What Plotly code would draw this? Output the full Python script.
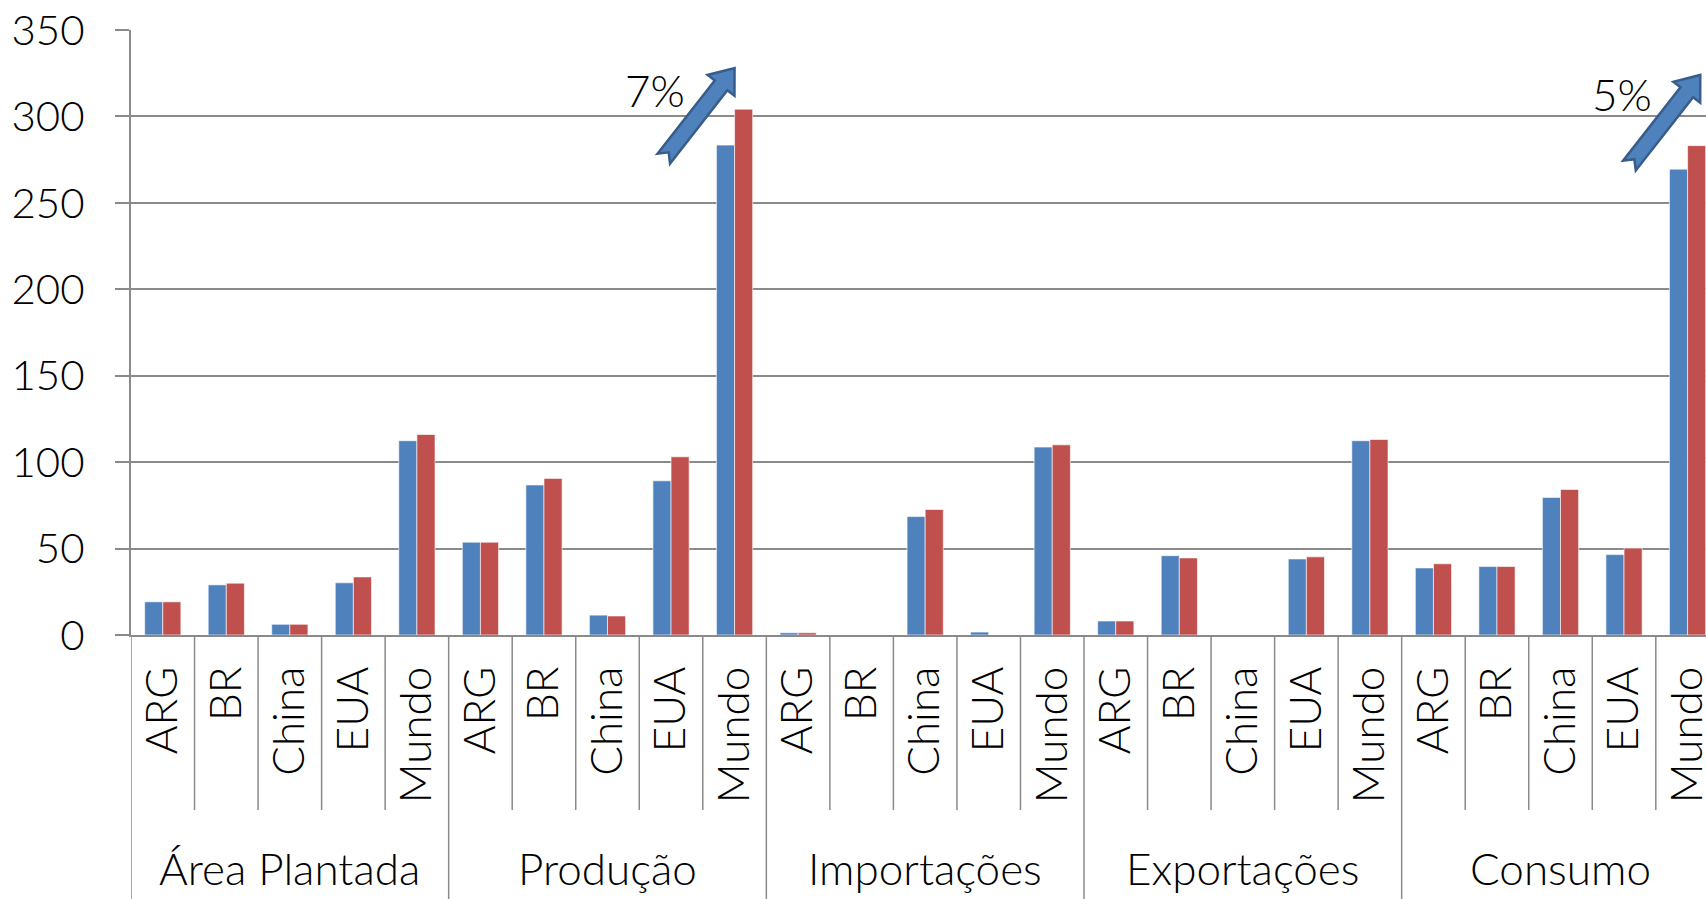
import math
import plotly.graph_objects as go

groups = ["Área Plantada", "Produção", "Importações", "Exportações", "Consumo"]
countries = ["ARG", "BR", "China", "EUA", "Mundo"]

serie1 = [19.2, 29.0, 6.2, 30.2, 112.4,
          53.7, 86.8, 11.5, 89.2, 283.4,
          1.3, 0, 68.5, 1.7, 108.7,
          8.1, 45.9, 0, 44.0, 112.4,
          38.8, 39.6, 79.6, 46.5, 269.5]
serie2 = [19.2, 30.0, 6.2, 33.6, 116.0,
          53.7, 90.6, 11.0, 103.1, 304.2,
          1.3, 0, 72.6, 0, 110.0,
          8.1, 44.6, 0, 45.2, 113.1,
          41.2, 39.6, 84.2, 50.3, 283.1]

y_ticks = [0, 50, 100, 150, 200, 250, 300, 350]
growth_labels = ["7%", "5%"]

W, H = 1706, 899
ML, MT, MB = 131, 30, 264
FONT = "Lato"
FW = 300
GRAY = "#8a8a8a"

n = len(groups) * len(countries)
xs = list(range(n))
tick_text = countries * len(groups)

fig = go.Figure()
fig.add_trace(go.Bar(x=xs, y=serie1, name="Série 1", marker=dict(color="#4F81BD", line=dict(color="rgba(255,255,255,0.6)", width=1))))
fig.add_trace(go.Bar(x=xs, y=serie2, name="Série 2", marker=dict(color="#C0504D", line=dict(color="rgba(255,255,255,0.6)", width=1))))

plot_h = H - MT - MB
def ypaper(px):
    return (H - MB - px) / plot_h

shapes = []
ng = len(countries)
for b in range(-1, n - 1):
    xb = b + 0.5
    is_group = (b + 1) % ng == 0
    shapes.append(dict(type="line", xref="x", yref="paper", x0=xb, x1=xb,
                       y0=0, y1=ypaper(H) if is_group else ypaper(810),
                       line=dict(color=GRAY, width=1.5), layer="above"))

# block arrows (decoration), pixel geometry relative to tip anchor
def arrow_path(theta_deg=52, L=115, hw=8, hhw=17, hl=22, notch=8):
    t = math.radians(theta_deg)
    pts = [(-L, hw), (-hl, hw), (-hl, hhw), (0, 0), (-hl, -hhw), (-hl, -hw), (-L, -hw), (-L + notch, 0)]
    out = []
    for u, v in pts:
        X = u * math.cos(t) - v * math.sin(t)
        Y = u * math.sin(t) + v * math.cos(t)
        out.append((X, Y))
    return "M " + " L ".join(f"{x:.1f},{y:.1f}" for x, y in out) + " Z"

arrow_tips = [(9.0, 328), (24.2, 324)]
for ax_, ay_ in arrow_tips:
    shapes.append(dict(type="path", xref="x", yref="y", xsizemode="pixel", ysizemode="pixel",
                       xanchor=ax_, yanchor=ay_, path=arrow_path(),
                       fillcolor="#4F81BD", line=dict(color="#385D8A", width=2.5), layer="above"))

tfont = dict(family=FONT, size=44, color="black", weight=FW)
yfont = dict(family=FONT, size=42, color="black", weight=FW)

annotations = []
for i, g in enumerate(groups):
    annotations.append(dict(x=i * ng + (ng - 1) / 2, y=ypaper(868), xref="x", yref="paper",
                            text=g, showarrow=False, font=tfont,
                            xanchor="center", yanchor="middle"))
label_pos = [(7.75, 315.5), (22.97, 312.8)]
for (lx, ly), txt in zip(label_pos, growth_labels):
    annotations.append(dict(x=lx, y=ly, xref="x", yref="y", text=txt, showarrow=False,
                            font=tfont, xanchor="center", yanchor="middle"))

fig.update_layout(
    width=W, height=H,
    margin=dict(l=ML, r=0, t=MT, b=MB, pad=0),
    paper_bgcolor="white", plot_bgcolor="white",
    barmode="group", bargap=0.43, bargroupgap=0,
    showlegend=False,
    shapes=shapes, annotations=annotations,
    font=tfont,
)
fig.update_xaxes(range=[-0.5, 24.29], tickmode="array", tickvals=xs, ticktext=tick_text,
                 tickangle=-90, ticks="", showgrid=False, showline=True, linecolor=GRAY, linewidth=2,
                 ticklabelstandoff=12, ticklabeloverflow="allow", tickfont=tfont,
                 automargin=False, zeroline=False)
fig.update_yaxes(range=[0, 350], tickmode="array", tickvals=y_ticks, showgrid=True, gridcolor=GRAY,
                 gridwidth=1.5, showline=True, linecolor=GRAY, linewidth=2, ticks="outside", ticklen=14,
                 tickcolor=GRAY, tickwidth=1.5, ticklabelstandoff=22,
                 tickfont=yfont, automargin=False, zeroline=False)

fig.write_html("out.html", config={"displayModeBar": False},
               post_script="document.body.style.margin='0';document.body.style.overflow='hidden';")
